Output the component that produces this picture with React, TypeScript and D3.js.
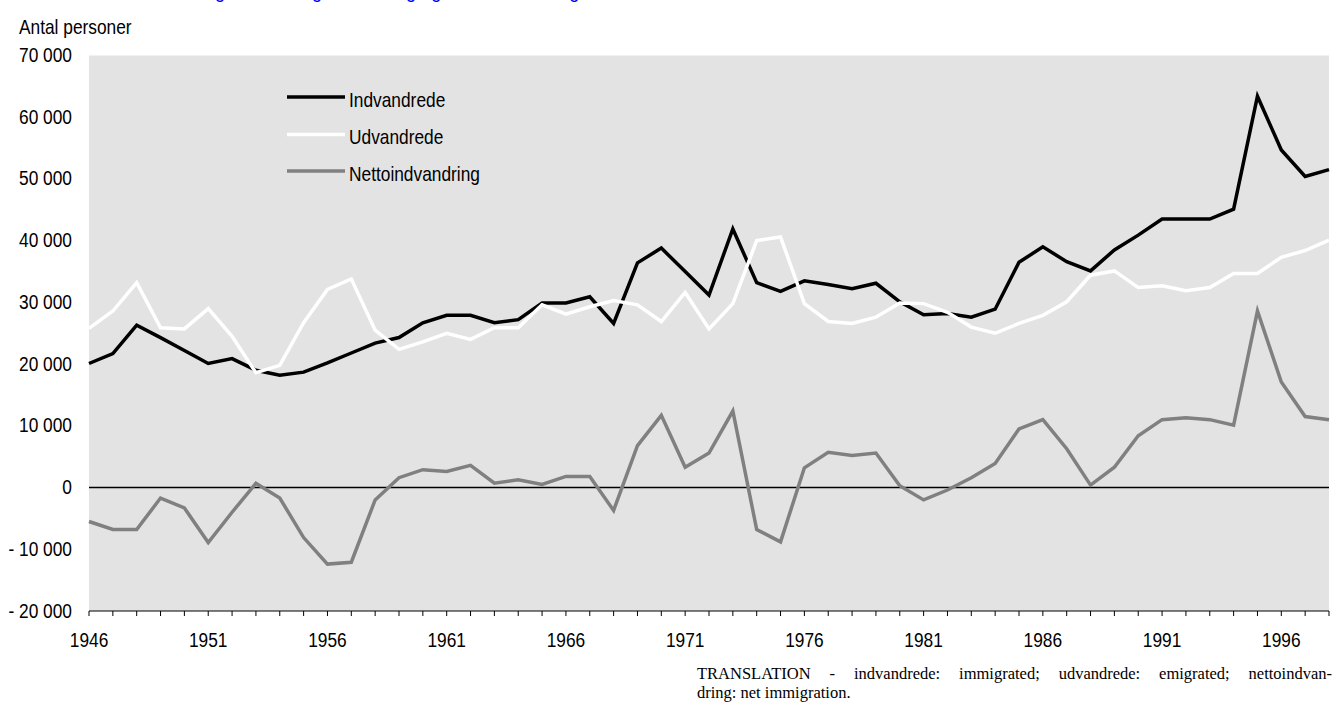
import React, { useEffect, useRef } from "react";
import * as d3 from "d3";

const years: number[] = d3.range(1946, 1999);

const indvandrede: number[] = [
  20.1, 21.7, 26.3, 24.3, 22.2, 20.1, 20.9, 19.0, 18.2, 18.7,
  20.2, 21.8, 23.4, 24.3, 26.7, 27.9, 27.9, 26.7, 27.2, 29.9,
  29.9, 30.9, 26.6, 36.4, 38.8, 35.0, 31.2, 41.9, 33.2, 31.8,
  33.5, 32.9, 32.2, 33.1, 30.1, 28.0, 28.2, 27.6, 28.9, 36.5,
  39.0, 36.6, 35.1, 38.5, 40.9, 43.5, 43.5, 43.5, 45.1, 63.4,
  54.7, 50.4, 51.5,
].map((v) => v * 1000);

const udvandrede: number[] = [
  25.8, 28.6, 33.2, 25.9, 25.7, 29.0, 24.5, 18.6, 19.8, 26.7,
  32.1, 33.8, 25.5, 22.4, 23.6, 25.0, 24.0, 25.9, 25.9, 29.6,
  28.1, 29.3, 30.3, 29.6, 26.9, 31.6, 25.7, 29.8, 40.0, 40.6,
  29.8, 26.9, 26.6, 27.6, 29.9, 29.8, 28.4, 26.0, 25.0, 26.6,
  27.9, 30.1, 34.4, 35.1, 32.4, 32.7, 31.9, 32.4, 34.7, 34.7,
  37.3, 38.4, 40.1,
].map((v) => v * 1000);

const netto: number[] = [
  -5.5, -6.8, -6.8, -1.7, -3.3, -8.9, -4.0, 0.7, -1.7, -8.1,
  -12.4, -12.1, -2.0, 1.6, 2.9, 2.6, 3.6, 0.7, 1.25, 0.5,
  1.8, 1.8, -3.7, 6.8, 11.7, 3.3, 5.6, 12.4, -6.8, -8.8,
  3.2, 5.7, 5.2, 5.6, 0.3, -2.0, -0.4, 1.6, 3.9, 9.5,
  11.0, 6.3, 0.4, 3.3, 8.4, 11.0, 11.3, 11.0, 10.1, 28.6,
  17.1, 11.5, 11.0,
].map((v) => v * 1000);

const yTicks: number[] = [-20000, -10000, 0, 10000, 20000, 30000, 40000, 50000, 60000, 70000];
const xLabelYears: number[] = [1946, 1951, 1956, 1961, 1966, 1971, 1976, 1981, 1986, 1991, 1996];

const seriesNames: string[] = ["Indvandrede", "Udvandrede", "Nettoindvandring"];
const seriesColors: string[] = ["#000000", "#ffffff", "#808080"];

const W = 1337;
const H = 704;
const left = 89;
const right = 1329;
const top = 55.5;
const bottom = 611;

const FONT = "'Liberation Sans', Arial, sans-serif";
const FS = 20.5;
const SX = 0.845;
const SERIF = "'Liberation Serif', 'Times New Roman', serif";

const locale = d3.formatLocale({ decimal: ",", thousands: " ", grouping: [3], currency: ["", ""] });
const fmt = locale.format(",d");
const fmtTick = (v: number) => (v < 0 ? "- " + fmt(-v) : fmt(v));

function NText(props: { x: number; y: number; anchor?: string; children: React.ReactNode }) {
  return (
    <text
      transform={`translate(${props.x},${props.y}) scale(${SX},1)`}
      textAnchor={props.anchor || "start"}
      fontSize={FS}
      fontFamily={FONT}
      fill="#000"
    >
      {props.children}
    </text>
  );
}

function JustifiedText(props: { x: number; y: number; width: number; size: number; text: string }) {
  const ref = useRef<SVGTextElement>(null);
  useEffect(() => {
    const el = ref.current;
    if (!el) return;
    el.setAttribute("word-spacing", "0");
    const len = el.getComputedTextLength();
    const spaces = (props.text.match(/ /g) || []).length;
    if (spaces > 0) {
      const extra = (props.width - len) / spaces;
      el.setAttribute("word-spacing", String(extra));
    }
  }, [props.text, props.width]);
  return (
    <text ref={ref} x={props.x} y={props.y} fontSize={props.size} fontFamily={SERIF} fill="#000">
      {props.text}
    </text>
  );
}

export default function App() {
  const x = d3.scaleLinear().domain([1946, 1998]).range([left, right]);
  const y = d3.scaleLinear().domain([-20000, 70000]).range([bottom, top]);
  const line = d3
    .line<number>()
    .x((_, i) => x(years[i]))
    .y((d) => y(d));
  const allSeries = [indvandrede, udvandrede, netto];

  return (
    <svg
      width={W}
      height={H}
      style={{ position: "absolute", left: 0, top: 0, display: "block" }}
    >
      <rect x={0} y={0} width={W} height={H} fill="#ffffff" />
      <text x={200} y={-2} fill="#0000ff" fontSize={18} fontFamily={FONT}>
        Figur 1. Ind- og udvandring og nettoindvandring 1946-1998
      </text>
      <NText x={19} y={33.5}>Antal personer</NText>
      <rect x={left} y={top} width={right - left} height={bottom - top} fill="#e3e3e3" />

      {yTicks.map((t) => (
        <NText key={t} x={72} y={y(t) + 6.5} anchor="end">
          {fmtTick(t)}
        </NText>
      ))}

      <line x1={left} x2={right} y1={y(0)} y2={y(0)} stroke="#000" strokeWidth={1.5} />

      {allSeries.map((s, k) => (
        <path
          key={k}
          d={line(s) || ""}
          fill="none"
          stroke={seriesColors[k]}
          strokeWidth={3.5}
          strokeLinejoin="miter"
        />
      ))}

      <line x1={left} x2={right} y1={bottom} y2={bottom} stroke="#000" strokeWidth={1} />
      {years.map((yr) => (
        <line key={yr} x1={x(yr)} x2={x(yr)} y1={bottom} y2={bottom + 5} stroke="#000" strokeWidth={1} />
      ))}
      {xLabelYears.map((yr) => (
        <NText key={yr} x={x(yr)} y={647} anchor="middle">
          {yr}
        </NText>
      ))}

      {seriesNames.map((n, k) => {
        const ly = [97, 134.5, 171][k];
        return (
          <g key={n}>
            <line x1={287} x2={345} y1={ly} y2={ly} stroke={seriesColors[k]} strokeWidth={3.5} />
            <NText x={349} y={ly + 9.5}>{n}</NText>
          </g>
        );
      })}

      <JustifiedText
        x={697}
        y={679}
        width={635}
        size={16.5}
        text="TRANSLATION - indvandrede: immigrated; udvandrede: emigrated; nettoindvan-"
      />
      <text x={697} y={698} fontSize={16.5} fontFamily={SERIF} fill="#000">
        dring: net immigration.
      </text>
    </svg>
  );
}
